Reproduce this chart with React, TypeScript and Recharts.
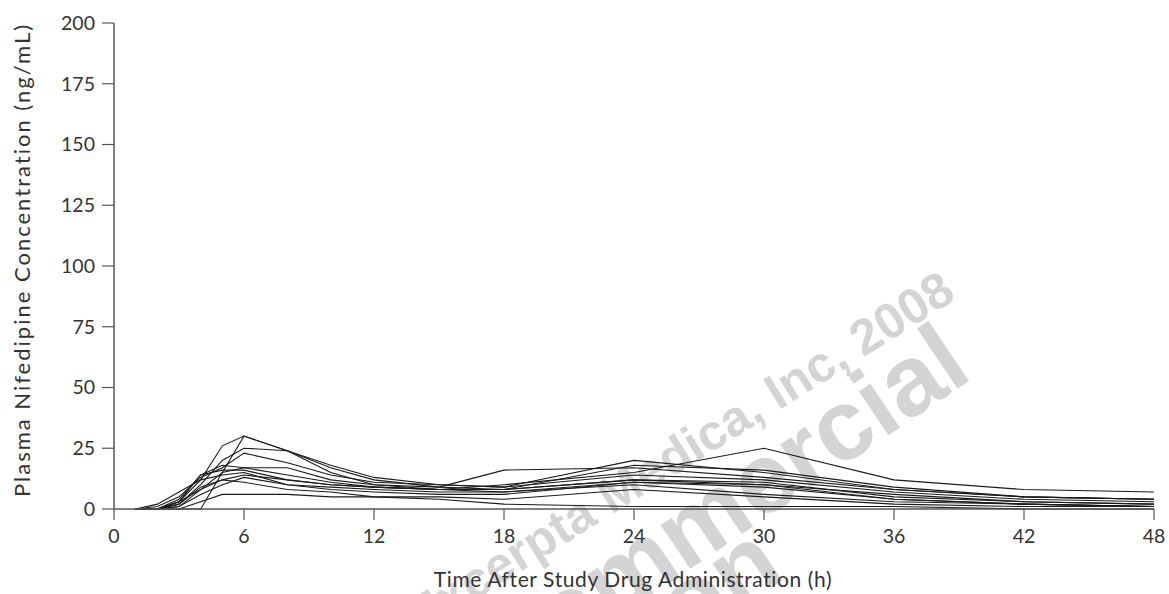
import React from "react";
import { LineChart, Line, XAxis, YAxis } from "recharts";

// sampling times (h)
const times = [1, 2, 3, 4, 5, 6, 8, 10, 12, 15, 18, 24, 30, 36, 42, 48];

// individual subject plasma concentrations (ng/mL)
const s1 = [0, 0, 3, 12, 26, 30, 24, 17, 12, 9, 8, 12, 10, 6, 3, 2];
const s2 = [0, 0, 0, 0, 15, 30, 24, 18, 13, 10, 9, 14, 12, 7, 4, 3];
const s3 = [0, 0, 2, 10, 20, 25, 24, 15, 10, 8, 8, 18, 16, 9, 5, 4];
const s4 = [0, 1, 5, 13, 17, 23, 19, 14, 11, 10, 9, 20, 15, 8, 5, 4];
const s5 = [0, 0, 4, 14, 18, 17, 17, 12, 10, 9, 16, 17, 13, 8, 5, 4];
const s6 = [0, 0, 1, 8, 15, 17, 14, 11, 9, 8, 10, 15, 25, 12, 8, 7];
const s7 = [0, 0, 3, 14, 16, 16, 12, 10, 9, 8, 8, 12, 11, 5, 3, 2];
const s8 = [0, 2, 7, 12, 14, 15, 10, 9, 8, 7, 7, 11, 9, 4, 2, 1];
const s9 = [0, 0, 2, 9, 12, 14, 12, 10, 9, 8, 7, 10, 6, 3, 2, 1];
const s10 = [0, 0, 1, 6, 10, 13, 10, 8, 7, 6, 6, 11, 10, 4, 2, 1];
const s11 = [0, 0, 3, 8, 12, 11, 8, 7, 5, 4, 2, 1, 1, 1, 0, 0];
const s12 = [0, 0, 0, 3, 6, 6, 6, 5, 5, 5, 4, 8, 5, 2, 1, 1];

const subjects = [s1, s2, s3, s4, s5, s6, s7, s8, s9, s10, s11, s12];

const xTicks = [0, 6, 12, 18, 24, 30, 36, 42, 48];
const yTicks = [0, 25, 50, 75, 100, 125, 150, 175, 200];

const data = times.map((t, i) => {
    const row: any = { time: t };
    subjects.forEach((s, j) => {
        row["s" + (j + 1)] = s[i];
    });
    return row;
});

const tickStyle = { fontFamily: "Lato, sans-serif", fontSize: 19.5, fill: "#333" };

export default function App() {
    return (
        <div style={{ position: "absolute", left: 0, top: 0, width: 1169, height: 594, overflow: "hidden", background: "#fff" }}>
            <svg width={1169} height={594} style={{ position: "absolute", left: 0, top: 0 }}>
                {/* watermark behind the plot */}
                <g fill="#d4d4d4" fontFamily="'Liberation Sans', Arial, sans-serif" fontWeight="bold">
                    <text x={680} y={452} fontSize={50} textAnchor="middle" dominantBaseline="central"
                          transform="rotate(-32 680 452)">Excerpta Medica, Inc, 2008</text>
                    <text x={718} y={508} fontSize={100} textAnchor="middle" dominantBaseline="central"
                          transform="rotate(-34 718 508)">Commercial</text>
                    <text x={535} y={705} fontSize={100} textAnchor="middle" dominantBaseline="central"
                          transform="rotate(-34 535 705)">Distribution</text>
                </g>
                <text x={633} y={587} textAnchor="middle" fontFamily="Lato, sans-serif" fontSize={21}
                      letterSpacing={0.6} fill="#333">
                    Time After Study Drug Administration (h)
                </text>
                <text x={30} y={260} textAnchor="middle" fontFamily="Lato, sans-serif" fontSize={22}
                      letterSpacing={2} fill="#333" transform="rotate(-90 30 260)">
                    Plasma Nifedipine Concentration (ng/mL)
                </text>
            </svg>
            <div style={{ position: "absolute", left: 0, top: 0 }}>
                <LineChart width={1169} height={594} data={data} margin={{ top: 23, right: 15, bottom: 35, left: 54 }}>
                    <XAxis dataKey="time" type="number" domain={[0, 48]} ticks={xTicks} interval={0}
                           tickSize={11} tickMargin={9} height={50} tick={tickStyle}
                           axisLine={{ stroke: "#555", strokeWidth: 1.5 }} tickLine={{ stroke: "#555", strokeWidth: 1.2 }}/>
                    <YAxis type="number" domain={[0, 200]} ticks={yTicks} interval={0} width={60}
                           tickSize={12} tickMargin={7} tick={tickStyle}
                           axisLine={{ stroke: "#555", strokeWidth: 1.5 }} tickLine={{ stroke: "#555", strokeWidth: 1.2 }}/>
                    {subjects.map((_, j) => (
                        <Line key={j} type="linear" dataKey={"s" + (j + 1)} stroke="#1a1a1a" strokeWidth={1.1}
                              dot={false} activeDot={false} isAnimationActive={false}/>
                    ))}
                </LineChart>
            </div>
        </div>
    );
}
